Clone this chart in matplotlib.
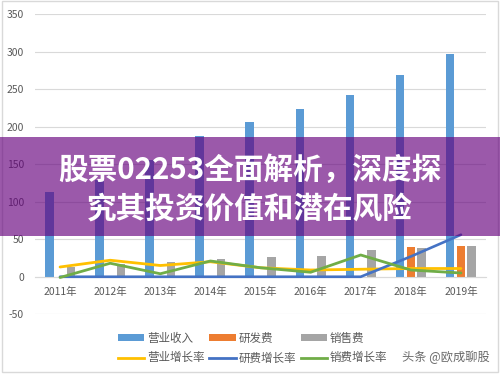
import matplotlib
matplotlib.use("Agg")
import matplotlib.pyplot as plt
import numpy as np
from matplotlib.patches import Rectangle, Patch
from matplotlib.lines import Line2D

plt.rcParams['font.family'] = ['Noto Sans CJK SC', 'DejaVu Sans']

years = ["2011年", "2012年", "2013年", "2014年", "2015年", "2016年", "2017年", "2018年", "2019年"]
revenue = [113, 129, 155, 187, 206, 223, 242, 269, 297]
rd_cost = [0, 0, 0, 0, 0, 0, 0, 40, 41]
sales_cost = [13, 17, 20, 24, 26, 27, 36, 38, 41]
rev_growth = [13, 22, 15, 20, 12, 9, 10, 11, 11]
rd_growth = [0, 0, 0, 0, 0, 0, 0, 27, 56]
sales_growth = [-1, 18, 4, 21, 12, 6, 29, 9, 5]
yticks = [-50, 0, 50, 100, 150, 200, 250, 300, 350]

title1 = "股票02253全面解析，深度探"
title2 = "究其投资价值和潜在风险"

c_blue = '#5B9BD5'
c_orange = '#ED7D31'
c_gray = '#A5A5A5'
c_yellow = '#FFC000'
c_dblue = '#4472C4'
c_green = '#70AD47'
txt = '#595959'

fig = plt.figure(figsize=(5, 3.75), dpi=100)
ax = fig.add_axes([35/500, 1-314.3/375, 451/500, 300.3/375])

x = np.arange(len(years))
w = 0.17
off = 0.215
ax.bar(x - off, revenue, w, color=c_blue, zorder=2)
ax.bar(x, rd_cost, w, color=c_orange, zorder=2)
ax.bar(x + off, sales_cost, w, color=c_gray, zorder=2)
ax.plot(x, rev_growth, color=c_yellow, lw=2.0, zorder=3, solid_capstyle='round')
ax.plot(x, rd_growth, color=c_dblue, lw=1.9, zorder=3, solid_capstyle='round')
ax.plot(x, sales_growth, color=c_green, lw=2.0, zorder=4, solid_capstyle='round')

ax.set_xlim(-0.5, len(years) - 0.5)
ax.set_ylim(-50, 350)
ax.set_yticks(yticks)
ax.set_yticklabels([str(v) for v in yticks])
ax.set_xticks(x)
ax.set_xticklabels(years)
ax.grid(axis='y', color='#D9D9D9', lw=0.8, zorder=0)
ax.set_axisbelow(True)
for s in ['top', 'right', 'left']:
    ax.spines[s].set_visible(False)
ax.spines['bottom'].set_position(('data', 0))
ax.spines['bottom'].set_color('#D9D9D9')
ax.spines['bottom'].set_linewidth(0.8)
ax.tick_params(axis='both', length=0, colors=txt, labelsize=7.5)
ax.tick_params(axis='x', pad=7)
ax.tick_params(axis='y', pad=8)

handles = [
    Patch(facecolor=c_blue, edgecolor='none'),
    Line2D([], [], color=c_yellow, lw=2),
    Patch(facecolor=c_orange, edgecolor='none'),
    Line2D([], [], color=c_dblue, lw=2),
    Patch(facecolor=c_gray, edgecolor='none'),
    Line2D([], [], color=c_green, lw=2),
]
labels = ["营业收入", "营业增长率", "研发费", "研费增长率", "销售费", "销费增长率"]
leg = fig.legend(handles, labels, ncol=3, loc='center', bbox_to_anchor=(0.505, 0.072),
                 frameon=False, fontsize=8.3, handlelength=2.3, handleheight=0.6,
                 handletextpad=0.25, columnspacing=0.4, labelspacing=0.6, borderpad=0.1)
for t in leg.get_texts():
    t.set_color(txt)

fig.text(0.98, 1-357/375, "头条 @欧成聊股", ha='right', va='center', fontsize=8.8, color='#6A6A6A')

# figure border
fig.add_artist(Rectangle((0.003, 0.008), 0.993, 0.989, transform=fig.transFigure,
                         fill=False, edgecolor='#D9D9D9', lw=1.0))

# banner overlay
fig.add_artist(Rectangle((0, 1-236/375), 1, 99/375, transform=fig.transFigure,
                         facecolor='#65007D', alpha=0.65, edgecolor='none', zorder=10))
fig.text(0.5, 1-170/375, title1, ha='center', va='center', fontsize=21.3,
         fontweight='bold', color='white', zorder=11)
fig.text(0.5, 1-209/375, title2, ha='center', va='center', fontsize=21.3,
         fontweight='bold', color='white', zorder=11)

fig.savefig("out.png", dpi=100)
